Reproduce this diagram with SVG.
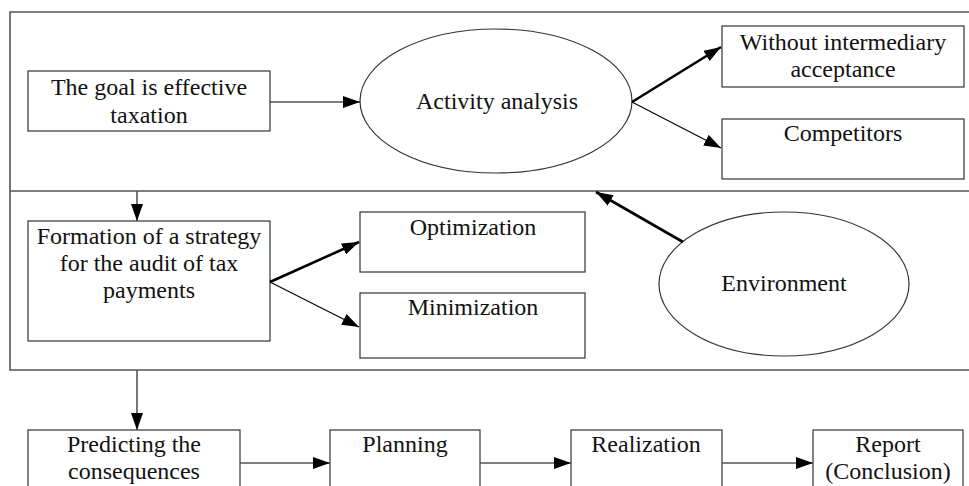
<svg xmlns="http://www.w3.org/2000/svg" width="969" height="486" viewBox="0 0 969 486">
<style>
.t{font-family:'Liberation Serif','Times New Roman',serif;font-size:24px;fill:#111;text-anchor:middle}
.box{fill:#fff;stroke:#333;stroke-width:1.2}
.frame{stroke:#555;stroke-width:1.6;fill:none}
.thin{stroke:#000;stroke-width:1.1;fill:none}
.thick{stroke:#000;stroke-width:2.6;fill:none}
.gl{stroke:#555;stroke-width:1.6;fill:none}
</style>
<defs>
<marker id="ah" markerUnits="userSpaceOnUse" markerWidth="18" markerHeight="12" refX="17" refY="6" orient="auto">
<path d="M0,0 L17,6 L0,12 Z" fill="#000"/>
</marker>
</defs>
<g id="frame">
<path class="frame" d="M969,12 H10 V370 H969 M10,191 H969"/>
</g>
<g id="goal"><rect class="box" x="28" y="71" width="242" height="60"/><text class="t" x="149" y="95">The goal is effective</text><text class="t" x="149" y="123">taxation</text></g>
<g id="activity"><ellipse class="box" cx="496" cy="101" rx="136" ry="72"/><text class="t" x="497" y="109">Activity analysis</text></g>
<g id="without"><rect class="box" x="722" y="26" width="242" height="61"/><text class="t" x="843" y="50">Without intermediary</text><text class="t" x="843" y="77">acceptance</text></g>
<g id="competitors"><rect class="box" x="722" y="119" width="242" height="60"/><text class="t" x="843" y="141">Competitors</text></g>
<g id="formation"><rect class="box" x="28" y="221" width="242" height="120"/><text class="t" x="149" y="244">Formation of a strategy</text><text class="t" x="149" y="271">for the audit of tax</text><text class="t" x="149" y="298">payments</text></g>
<g id="optimization"><rect class="box" x="360" y="212" width="225" height="60"/><text class="t" x="473" y="235">Optimization</text></g>
<g id="minimization"><rect class="box" x="360" y="293" width="225" height="65"/><text class="t" x="473" y="315">Minimization</text></g>
<g id="environment"><ellipse class="box" cx="784" cy="284" rx="125" ry="72"/><text class="t" x="784" y="291">Environment</text></g>
<g id="predicting"><rect class="box" x="28" y="430" width="212" height="70"/><text class="t" x="134" y="452">Predicting the</text><text class="t" x="134" y="479">consequences</text></g>
<g id="planning"><rect class="box" x="330" y="430" width="150" height="70"/><text class="t" x="405" y="452">Planning</text></g>
<g id="realization"><rect class="box" x="571" y="430" width="151" height="70"/><text class="t" x="646" y="452">Realization</text></g>
<g id="report"><rect class="box" x="813" y="430" width="150" height="70"/><text class="t" x="888" y="452">Report</text><text class="t" x="888" y="479">(Conclusion)</text></g>
<g id="connectors">
<line class="thin" x1="270" y1="102" x2="360" y2="102" marker-end="url(#ah)"/>
<line class="thick" x1="632" y1="102" x2="721" y2="47" marker-end="url(#ah)"/>
<line class="thin" x1="632" y1="102" x2="721" y2="148" marker-end="url(#ah)"/>
<line class="gl" x1="137" y1="191" x2="137" y2="221" marker-end="url(#ah)"/>
<line class="thick" x1="270" y1="282" x2="359" y2="242" marker-end="url(#ah)"/>
<line class="thin" x1="270" y1="282" x2="359" y2="327" marker-end="url(#ah)"/>
<line class="thick" x1="683" y1="242" x2="596" y2="192" marker-end="url(#ah)"/>
<line class="gl" x1="137" y1="370" x2="137" y2="430" marker-end="url(#ah)"/>
<line class="gl" x1="240" y1="463" x2="330" y2="463" marker-end="url(#ah)"/>
<line class="gl" x1="480" y1="463" x2="571" y2="463" marker-end="url(#ah)"/>
<line class="gl" x1="722" y1="463" x2="813" y2="463" marker-end="url(#ah)"/>
</g>
</svg>
